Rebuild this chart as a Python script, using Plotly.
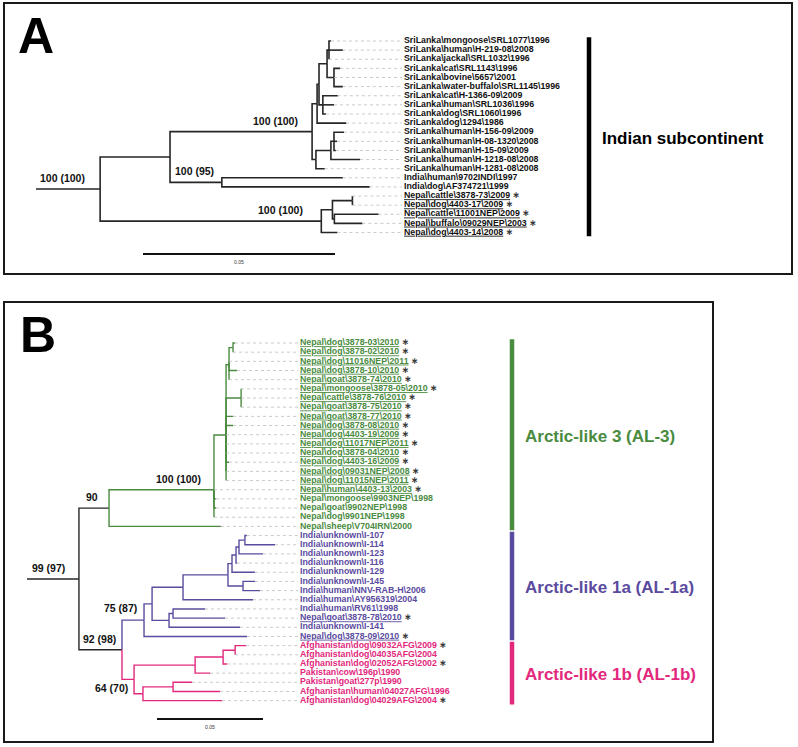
import plotly.graph_objects as go

# ------------------------- Panel A data -------------------------
A_TIPS = [
    r"SriLanka\mongoose\SRL1077\1996",
    r"SriLanka\human\H-219-08\2008",
    r"SriLanka\jackal\SRL1032\1996",
    r"SriLanka\cat\SRL1143\1996",
    r"SriLanka\bovine\5657\2001",
    r"SriLanka\water-buffalo\SRL1145\1996",
    r"SriLanka\cat\H-1366-09\2009",
    r"SriLanka\human\SRL1036\1996",
    r"SriLanka\dog\SRL1060\1996",
    r"SriLanka\dog\1294\1986",
    r"SriLanka\human\H-156-09\2009",
    r"SriLanka\human\H-08-1320\2008",
    r"SriLanka\human\H-15-09\2009",
    r"SriLanka\human\H-1218-08\2008",
    r"SriLanka\human\H-1281-08\2008",
    r"India\human\9702INDI\1997",
    r"India\dog\AF374721\1999",
    r"Nepal\cattle\3878-73\2009",
    r"Nepal\dog\4403-17\2009",
    r"Nepal\cattle\11001NEP\2009",
    r"Nepal\buffalo\09029NEP\2003",
    r"Nepal\dog\4403-14\2008",
]
A_TIP_PARENT = ["A1x", "A1x", "A1x", "A1a", "A1a", "A1a", "A2", "A2", "A2", "Aa",
                "B1a", "B1a", "B1a", "B1", "B", "IN", "IN", "N1a", "N1a", "N1b", "N1b", "N"]
A_TIP_LENGTH = [0.0005, 0.0036, 0.0, 0.0016, 0.0, 0.0023, 0.0039, 0.0029, 0.0008, 0.0076,
                0.0026, 0.0008, 0.0005, 0.0076, 0.0023, 0.0315, 0.0385, 0.0, 0.0, 0.0115, 0.0073, 0.0042]
A_TIP_UNDERLINE = [0, 0, 0, 0, 0, 0, 0, 0, 0, 0, 0, 0, 0, 0, 0, 0, 0, 1, 1, 1, 1, 1]
A_TIP_STAR = [0, 0, 0, 0, 0, 0, 0, 0, 0, 0, 0, 0, 0, 0, 0, 0, 0, 1, 1, 1, 1, 1]

A_INNER = ["root", "U", "SL", "Aa", "Ap", "A1", "A1x", "A1a", "A2", "B", "B1", "B1a",
           "IN", "N", "N1", "N1a", "N1b"]
A_INNER_PARENT = [None, "root", "U", "SL", "Aa", "Ap", "A1", "A1", "Ap", "SL", "B", "B1",
                  "U", "root", "N", "N1", "N1"]
A_INNER_LENGTH = [0.0167, 0.0182, 0.0370, 0.0013, 0.0005, 0.0021, 0.0005, 0.0018, 0.0010, 0.0010,
                  0.0039, 0.0008, 0.0135, 0.0576, 0.0029, 0.0052, 0.0005]

A_SUPPORT_NODE = ["root", "SL", "IN", "N"]
A_SUPPORT_TEXT = ["100 (100)", "100 (100)", "100 (95)", "100 (100)"]

A_GROUP_NAME = ["Indian subcontinent"]
A_GROUP_FIRST = [0]
A_GROUP_LAST = [21]

# ------------------------- Panel B data -------------------------
B_TIPS = [
    r"Nepal\dog\3878-03\2010",
    r"Nepal\dog\3878-02\2010",
    r"Nepal\dog\11016NEP\2011",
    r"Nepal\dog\3878-10\2010",
    r"Nepal\goat\3878-74\2010",
    r"Nepal\mongoose\3878-05\2010",
    r"Nepal\cattle\3878-76\2010",
    r"Nepal\goat\3878-75\2010",
    r"Nepal\goat\3878-77\2010",
    r"Nepal\dog\3878-08\2010",
    r"Nepal\dog\4403-19\2009",
    r"Nepal\dog\11017NEP\2011",
    r"Nepal\dog\3878-04\2010",
    r"Nepal\dog\4403-16\2009",
    r"Nepal\dog\09031NEP\2008",
    r"Nepal\dog\11015NEP\2011",
    r"Nepal\human\4403-13\2003",
    r"Nepal\mongoose\9903NEP\1998",
    r"Nepal\goat\9902NEP\1998",
    r"Nepal\dog\9901NEP\1998",
    r"Nepal\sheep\V704IRN\2000",
    r"India\unknown\I-107",
    r"India\unknown\I-114",
    r"India\unknown\I-123",
    r"India\unknown\I-116",
    r"India\unknown\I-129",
    r"India\unknown\I-145",
    r"India\human\NNV-RAB-H\2006",
    r"India\human\AY956319\2004",
    r"India\human\RV61\1998",
    r"Nepal\goat\3878-78\2010",
    r"India\unknown\I-141",
    r"Nepal\dog\3878-09\2010",
    r"Afghanistan\dog\09032AFG\2009",
    r"Afghanistan\dog\04035AFG\2004",
    r"Afghanistan\dog\02052AFG\2002",
    r"Pakistan\cow\196p\1990",
    r"Pakistan\goat\277p\1990",
    r"Afghanistan\human\04027AFG\1996",
    r"Afghanistan\dog\04029AFG\2004",
]
B_TIP_PARENT = ["G1a1", "G1a1", "G1a", "G1a", "G1a", "G1b", "G1b", "G1b", "G1", "G1",
                "G1", "G1", "G1", "G1", "G1", "G1", "G", "G", "G", "G",
                "G0", "L1", "L1", "L2", "L3", "L4", "P6", "P6", "P2", "P3a",
                "P3a", "P3", "P", "K1b", "K1b", "K1a", "K1", "K2a", "K2a", "K2"]
B_TIP_LENGTH = [0.0009, 0.0, 0.0, 0.0038, 0.0, 0.0, 0.0, 0.0, 0.0033, 0.0033,
                0.0, 0.0, 0.0, 0.0014, 0.0, 0.0, 0.0, 0.0010, 0.0010, 0.0,
                0.0528, 0.0009, 0.0142, 0.0113, 0.0005, 0.0108, 0.0057, 0.0080, 0.0330, 0.0151,
                0.0245, 0.0335, 0.0486, 0.0052, 0.0, 0.0019, 0.0071, 0.0090, 0.0222, 0.0373]
B_TIP_UNDERLINE = [1, 1, 1, 1, 1, 1, 1, 1, 1, 1, 1, 1, 1, 1, 1, 1, 1, 0, 0, 0,
                   0, 0, 0, 0, 0, 0, 0, 0, 0, 0, 1, 0, 1, 0, 0, 0, 0, 0, 0, 0]
B_TIP_STAR = [1, 1, 1, 1, 1, 1, 1, 1, 1, 1, 1, 1, 1, 1, 1, 1, 1, 0, 0, 0,
              0, 0, 0, 0, 0, 0, 0, 0, 0, 0, 1, 0, 1, 1, 0, 1, 0, 0, 0, 1]

B_INNER = ["root", "G0", "G", "G1", "G1a", "G1a1", "G1b", "L0", "P", "P1", "P2", "P4",
           "L4", "L3", "L2", "L1", "P6", "P3", "P3a", "K", "K1", "K1a", "K1b", "K2", "K2a"]
B_INNER_PARENT = [None, "root", "G0", "G", "G1", "G1a", "G1", "root", "L0", "P", "P1", "P2",
                  "P4", "L4", "L3", "L2", "P4", "P1", "P3", "L0", "K", "K1", "K1a", "K", "K2"]
B_INNER_LENGTH = [0.0245, 0.0142, 0.0495, 0.0057, 0.0014, 0.0019, 0.0071, 0.0203, 0.0104, 0.0038,
                  0.0146, 0.0212, 0.0019, 0.0019, 0.0014, 0.0028, 0.0071, 0.0080, 0.0019, 0.0057,
                  0.0288, 0.0132, 0.0057, 0.0042, 0.0142]

B_SUPPORT_NODE = ["root", "G0", "G", "L0", "P", "K"]
B_SUPPORT_TEXT = ["99 (97)", "90", "100 (100)", "92 (98)", "75 (87)", "64 (70)"]

B_GROUP_NAME = ["Arctic-like 3 (AL-3)", "Arctic-like 1a (AL-1a)", "Arctic-like 1b (AL-1b)"]
B_GROUP_FIRST = [0, 21, 33]
B_GROUP_LAST = [20, 32, 39]

SCALE_VALUE = 0.05

# ------------------------- Styles / layout -------------------------
W, H = 798, 747
FONT = "Liberation Sans, Arial, sans-serif"
DARK = "#262626"
GREEN = "#4a8b3f"
PURPLE = "#5b4b9f"
PINK = "#e2287c"
LEADER = "#bdbdbd"
TIP_FONT_SIZE = 8.8

# pixel anchors of each panel's coordinate frame
A_FRAME = dict(x0=36, ppu=3840, row0=41, rowpx=9.12, label_px=404, bar_px=589, scale_px=143, scale_py=254)
B_FRAME = dict(x0=27, ppu=2120, row0=343, rowpx=9.17, label_px=300, bar_px=512, scale_px=157, scale_py=719)

A_COLOR_ROOTS = {"root": DARK}
B_COLOR_ROOTS = {"root": DARK, "G": GREEN, 20: GREEN, "P": PURPLE, "K": PINK}
B_GROUP_COLOR = [GREEN, PURPLE, PINK]

# support label offsets (px) : (xshift, yshift, yanchor)
A_SUPPORT_STYLE = {"root": (-13, 3, "bottom"), "SL": (-12, 3, "bottom"),
                   "IN": (-6, 3, "bottom"), "N": (-16, 3, "bottom")}
B_SUPPORT_STYLE = {"root": (-12, 3, "bottom"), "G0": (-9, 3, "bottom"), "G": (-11, 3, "bottom"),
                   "L0": (-4, 3, "bottom"), "P": (-5, 4, "bottom"), "K": (-4, -1, "top")}


def px_to_x(frame, px):
    return (px - frame["x0"]) / frame["ppu"]


def py_to_y(frame, py):
    return (py - frame["row0"]) / frame["rowpx"]


def build_tree(inner, inner_parent, inner_len, tip_parent, tip_len):
    parent, length = {}, {}
    for n, p, l in zip(inner, inner_parent, inner_len):
        parent[n] = p
        length[n] = l
    for i, (p, l) in enumerate(zip(tip_parent, tip_len)):
        parent[i] = p
        length[i] = l
    children = {n: [] for n in parent}
    for n, p in parent.items():
        if p is not None:
            children[p].append(n)
    depth, ypos = {}, {}

    def get_depth(n):
        if n not in depth:
            p = parent[n]
            depth[n] = length[n] + (get_depth(p) if p is not None else 0.0)
        return depth[n]

    def get_y(n):
        if n not in ypos:
            if isinstance(n, int):
                ypos[n] = float(n)
            else:
                ypos[n] = sum(get_y(c) for c in children[n]) / len(children[n])
        return ypos[n]

    for n in parent:
        get_depth(n)
        get_y(n)
    return parent, depth, ypos


def branch_color(n, parent, roots):
    while n is not None:
        if n in roots:
            return roots[n]
        n = parent[n]
    return DARK


def tip_text(label, underline, star):
    s = label
    if underline:
        s = '<span style="text-decoration:underline">' + s + '</span>'
    if star:
        s += ' <span style="color:#3a3a3a;font-size:9px;font-family:DejaVu Sans">\u2217</span>'
    return s


fig = go.Figure()
annotations = []
shapes = []


def draw_panel(xa, ya, frame, tips, tip_parent, tip_len, underline, star,
               inner, inner_parent, inner_len, color_roots, lw, label_default_color,
               sup_nodes, sup_texts, sup_style, groups, group_colors):
    xref = "x" if xa == "x" else "x2"
    yref = "y" if ya == "y" else "y2"
    parent, depth, ypos = build_tree(inner, inner_parent, inner_len, tip_parent, tip_len)
    segs = {}
    for n in parent:
        c = branch_color(n, parent, color_roots)
        p = parent[n]
        xs, ys = segs.setdefault(c, ([], []))
        if p is None:
            xs += [0.0, depth[n], None]
            ys += [ypos[n], ypos[n], None]
        else:
            xs += [depth[p], depth[p], depth[n], None]
            ys += [ypos[p], ypos[n], ypos[n], None]
    for c, (xs, ys) in segs.items():
        fig.add_trace(go.Scatter(x=xs, y=ys, mode="lines", xaxis=xa, yaxis=ya,
                                 line=dict(color=c, width=lw), hoverinfo="skip"))
    label_x = px_to_x(frame, frame["label_px"])
    gap = 2.0 / frame["ppu"]
    lx, ly = [], []
    for i in range(len(tips)):
        lx += [depth[i], label_x - gap, None]
        ly += [i, i, None]
    fig.add_trace(go.Scatter(x=lx, y=ly, mode="lines", xaxis=xa, yaxis=ya,
                             line=dict(color=LEADER, width=0.8, dash="dot"), hoverinfo="skip"))
    by_color = {}
    for i, lab in enumerate(tips):
        c = branch_color(i, parent, color_roots) if label_default_color is None else label_default_color
        d = by_color.setdefault(c, ([], [], []))
        d[0].append(label_x)
        d[1].append(i)
        d[2].append(tip_text(lab, underline[i], star[i]))
    for c, (xs, ys, ts) in by_color.items():
        fig.add_trace(go.Scatter(x=xs, y=ys, text=ts, mode="text", textposition="middle right",
                                 xaxis=xa, yaxis=ya, cliponaxis=False,
                                 textfont=dict(family=FONT, size=TIP_FONT_SIZE, color=c, weight="bold"),
                                 hoverinfo="skip"))
    for n, t in zip(sup_nodes, sup_texts):
        dx, dy, yan = sup_style[n]
        annotations.append(dict(x=depth[n], y=ypos[n], xref=xref, yref=yref, text=t,
                                showarrow=False, xanchor="right", yanchor=yan, xshift=dx, yshift=dy,
                                font=dict(family=FONT, size=10.5, color="#111", weight="bold")))
    bar_x = px_to_x(frame, frame["bar_px"])
    for (name, first, last), gc in zip(groups, group_colors):
        shapes.append(dict(type="line", xref=xref, yref=yref, x0=bar_x, x1=bar_x,
                           y0=first - 0.42, y1=last + 0.42, line=dict(color=gc, width=4.5)))
        annotations.append(dict(x=bar_x, y=(first + last) / 2 + 0.15, xref=xref, yref=yref, text=name,
                                showarrow=False, xanchor="left", yanchor="middle", xshift=11,
                                font=dict(family=FONT, size=17, color=gc, weight="bold")))
    sx = px_to_x(frame, frame["scale_px"])
    sy = py_to_y(frame, frame["scale_py"])
    shapes.append(dict(type="line", xref=xref, yref=yref, x0=sx, x1=sx + SCALE_VALUE, y0=sy, y1=sy,
                       line=dict(color="#111", width=2)))
    annotations.append(dict(x=sx + SCALE_VALUE / 2, y=sy, xref=xref, yref=yref, text=f"{SCALE_VALUE:.2f}",
                            showarrow=False, xanchor="center", yanchor="top", yshift=-3,
                            font=dict(family=FONT, size=5, color="#333")))


draw_panel("x", "y", A_FRAME, A_TIPS, A_TIP_PARENT, A_TIP_LENGTH, A_TIP_UNDERLINE, A_TIP_STAR,
           A_INNER, A_INNER_PARENT, A_INNER_LENGTH, A_COLOR_ROOTS, 1.6, "#111111",
           A_SUPPORT_NODE, A_SUPPORT_TEXT, A_SUPPORT_STYLE,
           list(zip(A_GROUP_NAME, A_GROUP_FIRST, A_GROUP_LAST)), ["#000000"])
draw_panel("x2", "y2", B_FRAME, B_TIPS, B_TIP_PARENT, B_TIP_LENGTH, B_TIP_UNDERLINE, B_TIP_STAR,
           B_INNER, B_INNER_PARENT, B_INNER_LENGTH, B_COLOR_ROOTS, 1.4, None,
           B_SUPPORT_NODE, B_SUPPORT_TEXT, B_SUPPORT_STYLE,
           list(zip(B_GROUP_NAME, B_GROUP_FIRST, B_GROUP_LAST)), B_GROUP_COLOR)

# panel frames
for x0, y0, x1, y1 in [(4, 3, 792, 274), (4, 302, 713, 742)]:
    shapes.append(dict(type="rect", xref="paper", yref="paper", x0=x0 / W, x1=x1 / W,
                       y0=1 - y1 / H, y1=1 - y0 / H, line=dict(color="#1a1a1a", width=2)))

# panel letters
for letter, lx, ly in [("A", 16, 6), ("B", 18, 305)]:
    annotations.append(dict(x=lx / W, y=1 - ly / H, xref="paper", yref="paper", text=letter,
                            showarrow=False, xanchor="left", yanchor="top",
                            font=dict(family=FONT, size=50, color="#000", weight="bold")))


def axis_range_x(frame):
    return [px_to_x(frame, 0), px_to_x(frame, W)]


def axis_range_y(frame):
    return [py_to_y(frame, H), py_to_y(frame, 0)]


fig.update_layout(
    width=W, height=H, margin=dict(l=0, r=0, t=0, b=0, pad=0),
    paper_bgcolor="white", plot_bgcolor="rgba(0,0,0,0)", showlegend=False,
    xaxis=dict(range=axis_range_x(A_FRAME), visible=False, domain=[0, 1], fixedrange=True),
    yaxis=dict(range=axis_range_y(A_FRAME), visible=False, domain=[0, 1], fixedrange=True),
    xaxis2=dict(range=axis_range_x(B_FRAME), visible=False, overlaying="x", anchor="y2", fixedrange=True),
    yaxis2=dict(range=axis_range_y(B_FRAME), visible=False, overlaying="y", anchor="x2", fixedrange=True),
    annotations=annotations, shapes=shapes,
)

fig.write_html(
    "out.html",
    config={"displayModeBar": False, "staticPlot": True},
    post_script="document.body.style.margin='0';document.documentElement.style.overflow='hidden';",
)
